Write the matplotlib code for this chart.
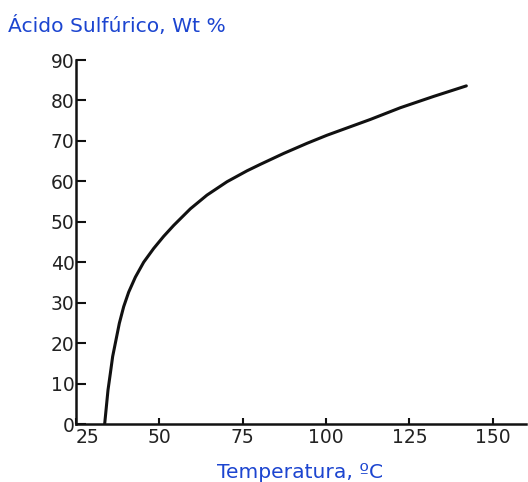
import matplotlib
matplotlib.use("Agg")
import matplotlib.pyplot as plt

# Data
temperature = [33.6, 34.1, 34.6, 35.3, 36.0, 37.0, 38.0, 39.3, 40.8, 42.8, 45.3,
               48.3, 51.3, 54.3, 59.3, 64.3, 70.3, 76.3, 80.3, 87.3, 94.3,
               100.3, 107.3, 113.3, 122.3, 132.3, 142.1]
acid_wt = [0.0, 4.2, 8.4, 12.5, 16.7, 20.8, 24.9, 29.0, 32.6, 36.3, 40.0,
           43.4, 46.4, 49.1, 53.2, 56.6, 59.9, 62.6, 64.2, 66.9, 69.4,
           71.4, 73.5, 75.3, 78.2, 81.0, 83.6]
x_ticks = [25, 50, 75, 100, 125, 150]
y_ticks = [0, 10, 20, 30, 40, 50, 60, 70, 80, 90]

W, H = 528, 482
fig = plt.figure(figsize=(W / 100, H / 100), dpi=100)
ax = fig.add_axes([76 / W, (H - 424) / H, 450 / W, (424 - 60) / H])

ax.plot(temperature, acid_wt, color="#111111", lw=2.2,
        solid_capstyle="round", solid_joinstyle="round")

ax.set_xlim(25, 160)
ax.set_ylim(0, 90)
ax.set_xticks(x_ticks)
ax.set_yticks(y_ticks)
ax.set_xticklabels([str(t) for t in x_ticks])
ax.set_yticklabels([str(t) for t in y_ticks])

for s in ["top", "right"]:
    ax.spines[s].set_visible(False)
for s in ["left", "bottom"]:
    ax.spines[s].set_linewidth(1.8)
    ax.spines[s].set_color("#111111")

ax.tick_params(axis="y", direction="in", length=7, width=1.5, pad=1,
               colors="#111111", labelcolor="#222222")
ax.tick_params(axis="x", direction="in", length=4.5, width=1.5, pad=3,
               colors="#111111", labelcolor="#222222")
for lab in ax.get_xticklabels() + ax.get_yticklabels():
    lab.set_fontfamily("DejaVu Sans")
    lab.set_fontsize(13.5)
ax.get_xticklabels()[0].set_horizontalalignment("left")

blue = "#1c45d0"
fig.text(8 / W, 1 - 32 / H, "Ácido Sulfúrico, Wt %", color=blue,
         fontsize=14.6, family="DejaVu Sans", ha="left", va="baseline")
fig.text(300 / W, 1 - 478 / H, "Temperatura, ºC", color=blue,
         fontsize=14.6, family="DejaVu Sans", ha="center", va="baseline")

fig.savefig("out.png", dpi=100, facecolor="white")
